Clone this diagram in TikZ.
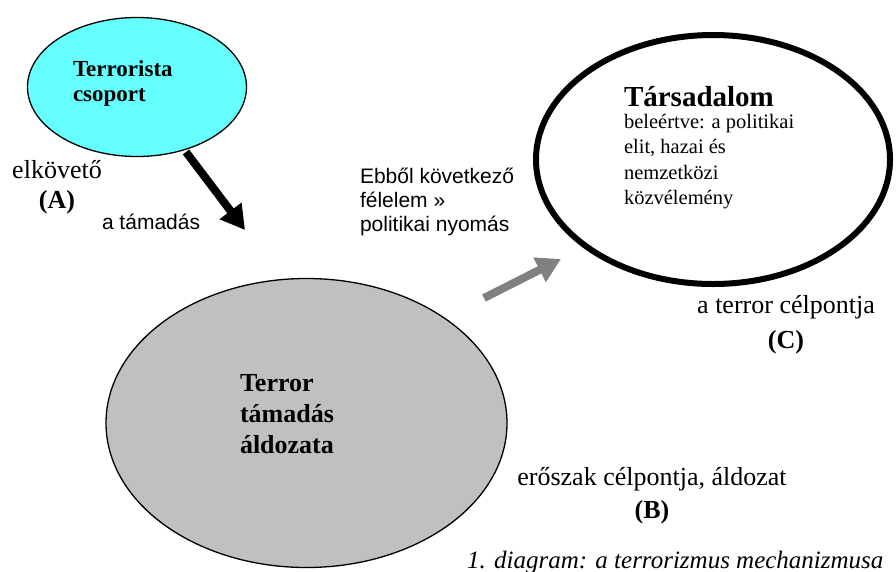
\documentclass[tikz,border=0pt]{standalone}
\usepackage{fontspec}
\setmainfont{Liberation Serif}
\newfontfamily\arialf{Liberation Sans}
\usetikzlibrary{shapes.geometric,arrows.meta}
\definecolor{cyanfill}{RGB}{102,255,255}
\definecolor{grayfill}{RGB}{192,192,192}
\definecolor{arrowgray}{RGB}{128,128,128}
\begin{document}
\begin{tikzpicture}[x=1pt,y=-1pt,
  blob/.style={ellipse, inner sep=0pt, outer sep=0pt},
  lbl/.style={inner sep=0pt, outer sep=0pt, anchor=base west, align=left},
  clbl/.style={inner sep=0pt, outer sep=0pt, anchor=base, align=center},
  bigarrow/.style={line width=8pt, -{Triangle[length=24pt,width=26pt]}},
]
\useasboundingbox (0,0) rectangle (896,571);
% ellipses
\node[blob, draw=black, line width=1.3pt, fill=cyanfill, minimum width=219pt, minimum height=139pt] (grp) at (137,87) {};
\node[blob, draw=black, line width=1.3pt, fill=grayfill, minimum width=401pt, minimum height=289pt] (vic) at (306.5,423) {};
\node[blob, draw=black, line width=6pt, fill=white, minimum width=354pt, minimum height=249pt] (soc) at (713,159.5) {};
% texts in ellipses (base anchor = last line)
\node[lbl, font=\fontsize{23}{25}\selectfont\bfseries] (grptxt) at (73,101) {Terrorista\\csoport};
\node[lbl, font=\fontsize{26}{31}\selectfont\bfseries] (victxt) at (240,453) {Terror\\támadás\\áldozata};
\node[lbl, font=\fontsize{29}{30}\selectfont\bfseries] (soctitle) at (624,106) {Társadalom};
\node[lbl, font=\fontsize{20.5}{25.5}\selectfont] (soctxt) at (624,204.5) {beleértve: a politikai\\elit, hazai és\\nemzetközi\\közvélemény};
% outer labels
\node[clbl, font=\fontsize{26}{30}\selectfont] (labA) at (57,208) {elkövető\\\textbf{(A)}};
\node[clbl, font=\fontsize{26}{33}\selectfont] (labB) at (652,518) {erőszak célpontja, áldozat\\\textbf{(B)}};
\node[clbl, font=\fontsize{26}{35}\selectfont] (labC) at (786,348) {a terror célpontja\\\textbf{(C)}};
\node[lbl, font=\arialf\fontsize{21}{24}\selectfont] (attack) at (102,229) {a támadás};
\node[lbl, font=\arialf\fontsize{21}{24}\selectfont] (fear) at (360,231) {Ebből következő\\félelem »\\politikai nyomás};
\node[lbl, font=\fontsize{25}{27}\selectfont\itshape] (caption) at (467,568) {1. diagram: a terrorizmus mechanizmusa};
% arrows
\coordinate (a1s) at (186,152);
\coordinate (a1e) at (245,230);
\coordinate (a2s) at (484,298);
\coordinate (a2e) at (561,259);
\draw[bigarrow, draw=black, fill=black] (a1s) -- (a1e);
\draw[bigarrow, draw=arrowgray, fill=arrowgray] (a2s) -- (a2e);
\end{tikzpicture}
\end{document}
